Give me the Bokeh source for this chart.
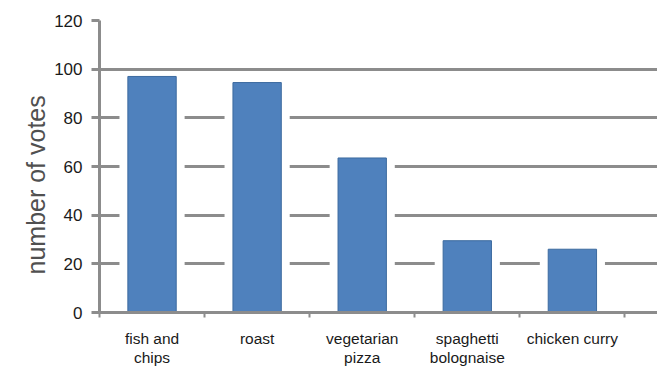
from bokeh.plotting import figure
from bokeh.models import FixedTicker, Range1d, ColumnDataSource, Title
from bokeh.embed import file_html
from bokeh.resources import INLINE

categories = ["fish and\nchips", "roast", "vegetarian\npizza", "spaghetti\nbolognaise", "chicken curry"]
votes = [97, 94.5, 63.5, 29.5, 26]
y_ticks = [0, 20, 40, 60, 80, 100, 120]

xs = [i + 0.5 for i in range(len(categories))]
src = ColumnDataSource(dict(x=xs, top=votes))

FONT = "Liberation Sans"

p = figure(width=657, height=372, output_backend="svg", toolbar_location=None,
           x_range=Range1d(0, 5.31), y_range=Range1d(0, 120),
           min_border_left=99, min_border_right=0, min_border_top=20, min_border_bottom=60)
p.outline_line_color = None
p.background_fill_color = "white"
p.border_fill_color = "white"

# grid
p.xgrid.grid_line_color = None
p.ygrid.grid_line_color = "#8c8c8c"
p.ygrid.grid_line_width = 3

# white gap around bars
p.vbar(x="x", top="top", width=0.62, source=src, fill_color="white", line_color=None)
# bars
p.vbar(x="x", top="top", width=0.46, source=src, fill_color="#4f81bd",
       line_color="#3c6a9f", line_width=1)

# y axis
p.yaxis.ticker = FixedTicker(ticks=y_ticks)
p.yaxis.axis_line_color = "#8c8c8c"
p.yaxis.axis_line_width = 3
p.yaxis.major_tick_line_color = "#8c8c8c"
p.yaxis.major_tick_line_width = 3
p.yaxis.major_tick_out = 8
p.yaxis.major_tick_in = 0
p.yaxis.minor_tick_line_color = None
p.yaxis.major_label_text_font = FONT
p.yaxis.major_label_text_font_size = "17px"
p.yaxis.major_label_text_color = "#1a1a1a"
p.yaxis.major_label_standoff = 9

# y axis title, anchored from the bottom so it sits a little low as in the reference
p.add_layout(Title(text="number of votes", align="left", offset=38,
                   text_font=FONT, text_font_size="25px", text_font_style="normal",
                   text_color="#505050", standoff=4), "left")

# x axis
p.xaxis.ticker = FixedTicker(ticks=xs, minor_ticks=list(range(len(categories) + 1)))
p.xaxis.major_label_overrides = {x: c for x, c in zip(xs, categories)}
p.xaxis.axis_line_color = "#8c8c8c"
p.xaxis.axis_line_width = 3
p.xaxis.major_tick_line_color = None
p.xaxis.minor_tick_line_color = "#8c8c8c"
p.xaxis.minor_tick_line_width = 2
p.xaxis.minor_tick_out = 5
p.xaxis.minor_tick_in = 0
p.xaxis.major_label_text_font = FONT
p.xaxis.major_label_text_font_size = "15.5px"
p.xaxis.major_label_text_color = "#1a1a1a"
p.xaxis.major_label_standoff = 11
p.xaxis.major_label_text_line_height = 1.15

open("out.html", "w").write(file_html(p, INLINE))
